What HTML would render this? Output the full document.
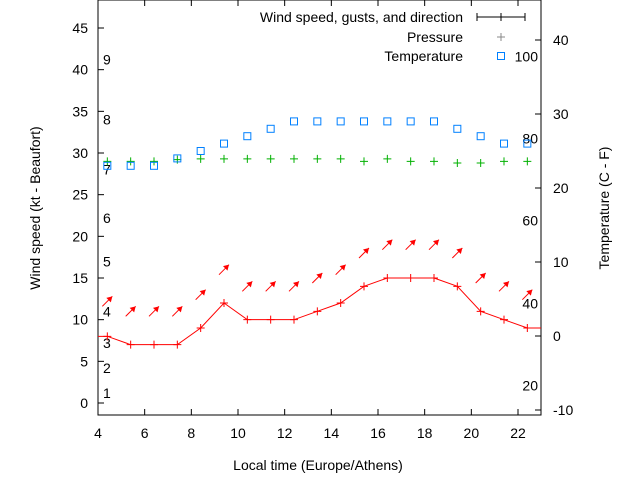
<!DOCTYPE html>
<html><head><meta charset="utf-8"><style>
body{margin:0;background:#fff;}
svg{display:block;font-family:"Liberation Sans",sans-serif;}
</style></head><body>
<svg id="c" width="640" height="480"></svg>
<script>
const hours=[4.4,5.4,6.4,7.4,8.4,9.4,10.4,11.4,12.4,13.4,14.4,15.4,16.4,17.4,18.4,19.4,20.4,21.4,22.4];
const wind=[8,7,7,7,9,12,10,10,10,11,12,14,15,15,15,14,11,10,9];
const gusts=[12.2,11,11,11,13,16,14,14,14,15,16,18,19,19,19,18,15,14,13];
const pressure=[29,29,29,29.2,29.3,29.3,29.3,29.3,29.3,29.3,29.3,29.0,29.3,29.0,29.0,28.8,28.8,29.0,29.0];
const temps=[23,23,23,24,25,26,27,28,29,29,29,29,29,29,29,28,27,26,26];
const xTicks=[4,6,8,10,12,14,16,18,20,22];
const yTicks=[0,5,10,15,20,25,30,35,40,45];
const y2Ticks=[-10,0,10,20,30,40];
const beaufort=[[1,1.2],[2,4.2],[3,7.2],[4,11],[5,17],[6,22.2],[7,28],[8,34],[9,41.2]];
const fahr=[[20,-6.7],[40,4.4],[60,15.6],[80,26.7],[100,37.8]];
const L=98,R=541,T=0,B=415;
const X=h=>L+(h-4)*(420/18);
const Y=v=>403-v*(375/45);
const Y2=v=>336-v*7.4;
const s=document.getElementById('c');const NS='http://www.w3.org/2000/svg';
function el(t,a,p){const e=document.createElementNS(NS,t);for(const k in a)e.setAttribute(k,a[k]);(p||s).appendChild(e);return e;}
function tx(x,y,str,anchor,size){const e=el('text',{x:x,y:y,'text-anchor':anchor||'middle','font-size':size||14,fill:'#000'});e.textContent=str;return e;}
let e=el('rect',{x:L,y:T,width:R-L,height:B-T,fill:'none',stroke:'#000','stroke-width':1});

xTicks.forEach(h=>{el('line',{x1:X(h),x2:X(h),y1:B,y2:B-6,stroke:'#000'});el('line',{x1:X(h),x2:X(h),y1:T,y2:T+6,stroke:'#000'});
 e=tx(X(h),438,String(h));});
yTicks.forEach(v=>{el('line',{x1:L,x2:L+6,y1:Y(v),y2:Y(v),stroke:'#000'});
 e=tx(L-10,Y(v)+5,String(v),'end');});
y2Ticks.forEach(v=>{el('line',{x1:R,x2:R-6,y1:Y2(v),y2:Y2(v),stroke:'#000'});
 e=tx(R+12,Y2(v)+5,String(v),'start');});
beaufort.forEach(b=>{e=tx(103,Y(b[1])+5,String(b[0]),'start');});
fahr.forEach(f=>{e=tx(538,Y2(f[1])+5,String(f[0]),'end');});
e=tx(318,470,'Local time (Europe/Athens)');
e=tx(0,0,'Wind speed (kt - Beaufort)');e.setAttribute('transform','translate(40,208) rotate(-90)');
e=tx(0,0,'Temperature (C - F)');e.setAttribute('transform','translate(609,208) rotate(-90)');
let pts=[[L,Y(wind[0])]].concat(hours.map((h,i)=>[X(h),Y(wind[i])])).concat([[R,Y(wind[wind.length-1])]]);
e=el('polyline',{points:pts.map(p=>p.join(',')).join(' '),fill:'none',stroke:'#f00','stroke-width':1});

hours.forEach((h,i)=>{const g=el('path',{d:`M${X(h)-4},${Y(wind[i])}h8M${X(h)},${Y(wind[i])-4}v8`,stroke:'#f00'});
 });
hours.forEach((h,i)=>{const cx=X(h),cy=Y(gusts[i]);
 const g=el('g',{});
 el('line',{x1:cx-5,y1:cy+5,x2:cx+5,y2:cy-5,stroke:'#f00'},g);
 el('path',{d:`M${cx+5},${cy-5}l-6,1.5l4.5,4.5z`,fill:'#f00'},g);});
pressure.forEach((p,i)=>{const x=X(hours[i]),y=Y(p);const g=el('path',{d:`M${x-4},${y}h8M${x},${y-4}v8`,stroke:'#00b000'});
 });
temps.forEach((t,i)=>{const g=el('rect',{x:X(hours[i])-3.5,y:Y2(t)-3.5,width:7,height:7,fill:'none',stroke:'#0080ff'});
 });
const lg=el('g',{});
e=tx(463,22,'Wind speed, gusts, and direction','end',14);lg.appendChild(e);
el('path',{d:'M477,17h48M477,13v8M525,13v8M501,13v8',stroke:'#000'},lg);
e=tx(463,42,'Pressure','end',14);lg.appendChild(e);
el('path',{d:'M497,37h8M501,33v8',stroke:'#888'},lg);
e=tx(463,61,'Temperature','end',14);lg.appendChild(e);
el('rect',{x:497.5,y:52.5,width:7,height:7,fill:'none',stroke:'#0080ff'},lg);
</script>
</body></html>
